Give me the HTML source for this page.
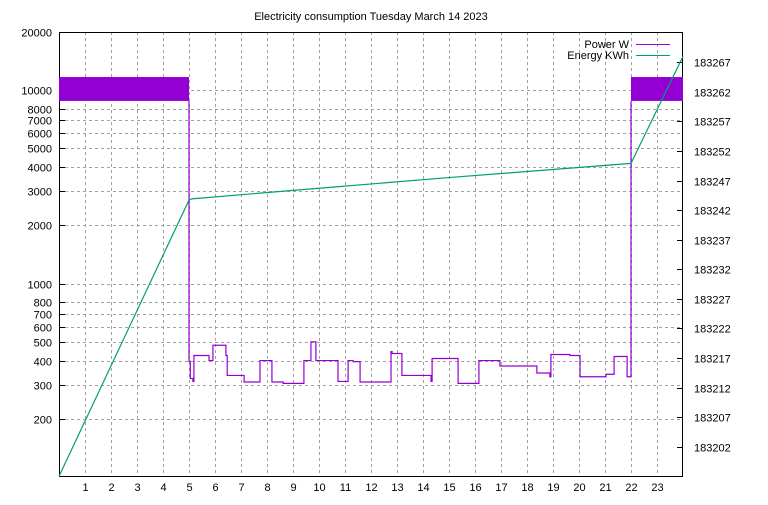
<!DOCTYPE html>
<html><head><meta charset="utf-8"><style>
body{margin:0;background:#fff}
svg text{font-family:"Liberation Sans",sans-serif;font-size:11px;fill:#000}
</style></head><body>
<svg id="c" width="768" height="500" xmlns="http://www.w3.org/2000/svg"></svg>
<script>
const yTicksLeft=[20000,10000,8000,7000,6000,5000,4000,3000,2000,1000,800,700,600,500,400,300,200];
const yTicksRight=[183202,183207,183212,183217,183222,183227,183232,183237,183242,183247,183252,183257,183262,183267];
const xTicks=[1,2,3,4,5,6,7,8,9,10,11,12,13,14,15,16,17,18,19,20,21,22,23];
const bandStart=[0,22];
const bandEnd=[5,24];
const bandLow=[8800,8800];
const bandHigh=[11700,11700];
const powerT=[5,5.05,5.15,5.19,5.77,5.92,6.42,6.47,7.12,7.73,8.19,8.62,9.42,9.69,9.88,10.73,11.12,11.31,11.58,12.77,12.81,13.19,14.31,14.35,15.35,16.15,16.96,18.38,18.88,18.92,19.65,20.04,21.04,21.35,21.85,22];
const powerV=[396,323,312,425,400,480,425,335,310,400,310,305,400,500,400,312,400,395,310,445,435,335,312,410,305,400,375,345,330,430,425,330,340,420,330,8800];
const energyT=[0,5,5.1,10,15,22,24];
const energyV=[183197,183243.7,183243.9,183245.7,183247.5,183249.9,183268];
const L=59,R=683,T=32,B=477;
const xs=t=>L+(R-L)*t/24;
const yl=v=>B-(B-T)*Math.log10(v/100)/Math.log10(200);
const yr=v=>B-(B-T)*(v-183196.9)/(183272.1-183196.9);
const svg=document.getElementById('c');
const NS='http://www.w3.org/2000/svg';
function el(tag,attrs,parent){const e=document.createElementNS(NS,tag);for(const k in attrs)e.setAttribute(k,attrs[k]);(parent||svg).appendChild(e);return e;}
function txt(x,y,s,anchor){const e=el('text',{x:x,y:y,'text-anchor':anchor});e.textContent=s;return e;}
const grid=el('g',{stroke:'#a0a0a0','stroke-dasharray':'3,3','stroke-width':1});


yTicksLeft.forEach(v=>{const y=Math.round(yl(v))+0.5;el('line',{x1:L,x2:R,y1:y,y2:y},grid);
 const t=txt(52,y+4,v,'end');
 el('line',{x1:L,x2:L+6,y1:y,y2:y,stroke:'#000','stroke-dasharray':'none'},grid);});
xTicks.forEach(v=>{const x=Math.round(xs(v))+0.5;el('line',{x1:x,x2:x,y1:T,y2:B},grid);
 const t=txt(x,491,v,'middle');});
yTicksRight.forEach(v=>{const y=Math.round(yr(v))+0.5;el('line',{x1:R-6,x2:R,y1:y,y2:y,stroke:'#000'});
 const t=txt(694,y+4,v,'start');});
const frame=el('rect',{x:L+0.5,y:T+0.5,width:R-L-1,height:B-T-1,fill:'none',stroke:'#000'});


bandStart.forEach((s,i)=>{const r=el('rect',{x:xs(s),y:yl(bandHigh[i]),width:xs(bandEnd[i])-xs(s),height:yl(bandLow[i])-yl(bandHigh[i]),fill:'#9400d3'});
 });
let d='M'+xs(powerT[0])+','+yl(bandLow[0]);
powerT.forEach((t,i)=>{d+=' L'+xs(t)+','+yl(i?powerV[i-1]:bandLow[0])+' L'+xs(t)+','+yl(powerV[i]);});
const pp=el('path',{d:d,fill:'none',stroke:'#9400d3','stroke-width':1.2});


const ep=el('polyline',{points:energyT.map((t,i)=>xs(t)+','+yr(energyV[i])).join(' '),fill:'none',stroke:'#009e73','stroke-width':1.2});


const ti=txt(371,20,'Electricity consumption Tuesday March 14 2023','middle');

const l1=txt(629,48,'Power W','end');
el('line',{x1:636,x2:670,y1:44.5,y2:44.5,stroke:'#9400d3'});
const l2=txt(629,59,'Energy KWh','end');
el('line',{x1:636,x2:670,y1:55.5,y2:55.5,stroke:'#009e73'});
</script>
</body></html>
